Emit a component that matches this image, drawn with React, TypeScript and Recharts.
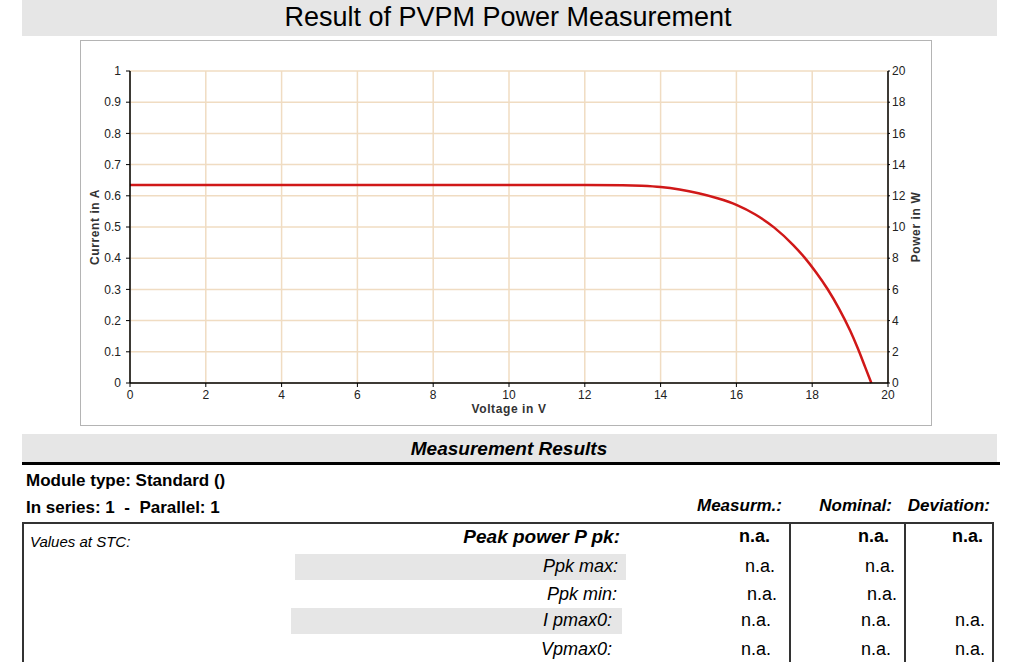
import React from 'react';
import { LineChart, Line, XAxis, YAxis, CartesianGrid } from 'recharts';

const voltage = [0, 2, 4, 6, 8, 10, 12, 13, 13.5, 14, 14.5, 15, 15.5, 16, 16.5, 17, 17.5, 17.8, 18.1, 18.4, 18.7, 19.0, 19.2, 19.4, 19.56];
const current = [0.635, 0.635, 0.635, 0.635, 0.635, 0.635, 0.635, 0.634, 0.632, 0.628, 0.62, 0.608, 0.592, 0.571, 0.54, 0.498, 0.442, 0.402, 0.355, 0.302, 0.24, 0.168, 0.112, 0.05, 0];
const xTicks = [0, 2, 4, 6, 8, 10, 12, 14, 16, 18, 20];
const currentTicks = [0, 0.1, 0.2, 0.3, 0.4, 0.5, 0.6, 0.7, 0.8, 0.9, 1];
const powerTicks = [0, 2, 4, 6, 8, 10, 12, 14, 16, 18, 20];

const data = voltage.map((v, k) => ({ v, i: current[k] }));

const FONT = "Arial, 'Liberation Sans', Helvetica, sans-serif";

type TProps = { x: number; y: number; text: string; align?: 'left' | 'right' | 'center'; size?: number; bold?: boolean; italic?: boolean };
function T({ x, y, text, align = 'left', size = 16, bold = false, italic = false }: TProps) {
  const h = size * 1.4;
  const w = 500;
  let left = x;
  if (align === 'right') left = x - w;
  if (align === 'center') left = x - w / 2;
  return (
    <div
      style={{
        position: 'absolute',
        left,
        top: y - h / 2,
        width: w,
        height: h,
        lineHeight: `${h}px`,
        textAlign: align,
        fontSize: size,
        fontWeight: bold ? 700 : 400,
        fontStyle: italic ? 'italic' : 'normal',
        fontFamily: FONT,
        color: '#000',
        whiteSpace: 'pre',
      }}
    >
      {text}
    </div>
  );
}

function Box({ x, y, w, h, bg }: { x: number; y: number; w: number; h: number; bg: string }) {
  return <div style={{ position: 'absolute', left: x, top: y, width: w, height: h, background: bg }} />;
}

export default function App() {
  const tickStyle = { fontSize: 12, fill: '#222', fontFamily: FONT };
  const axisTitle = { fontSize: 12, fontWeight: 700, fill: '#333', fontFamily: FONT, letterSpacing: 0.6 };
  return (
    <div style={{ position: 'absolute', left: 0, top: 0, width: 1024, height: 662, overflow: 'hidden', background: '#fff', fontFamily: FONT }}>
      {/* Title bar */}
      <Box x={22} y={0} w={975} h={36} bg="#e6e6e6" />
      <T x={508} y={18} text="Result of PVPM Power Measurement" align="center" size={27} />

      {/* Chart frame */}
      <div style={{ position: 'absolute', left: 80, top: 40, width: 850, height: 384, border: '1px solid #b4b4b4' }} />

      <div style={{ position: 'absolute', left: 0, top: 0 }}>
        <LineChart width={1024} height={440} data={data} margin={{ top: 71, right: 80, bottom: 5, left: 60 }}>
          <CartesianGrid yAxisId="left" stroke="#f0dcc2" strokeWidth={1.5} />
          <XAxis
            dataKey="v"
            type="number"
            domain={[0, 20]}
            ticks={xTicks}
            interval={0}
            height={52}
            tickSize={4}
            tickMargin={3}
            tick={tickStyle}
            axisLine={{ stroke: '#000', strokeWidth: 1.5 }}
            tickLine={{ stroke: '#000' }}
            label={{ value: 'Voltage in V', position: 'center', style: axisTitle }}
          />
          <XAxis
            xAxisId="top"
            dataKey="v"
            type="number"
            domain={[0, 20]}
            orientation="top"
            height={0}
            tick={false}
            tickLine={false}
            axisLine={{ stroke: '#000', strokeWidth: 1.5 }}
          />
          <YAxis
            yAxisId="left"
            type="number"
            domain={[0, 1]}
            ticks={currentTicks}
            interval={0}
            width={70}
            tickSize={4}
            tickMargin={5}
            tick={tickStyle}
            tickFormatter={(t: number) => String(Math.round(t * 10) / 10)}
            axisLine={{ stroke: '#000', strokeWidth: 1.5 }}
            tickLine={{ stroke: '#000' }}
            label={{ value: 'Current in A', angle: -90, position: 'center', style: axisTitle }}
          />
          <YAxis
            yAxisId="right"
            orientation="right"
            type="number"
            domain={[0, 20]}
            allowDataOverflow
            ticks={powerTicks}
            interval={0}
            width={56}
            tickSize={2}
            tickMargin={2}
            tick={tickStyle}
            axisLine={{ stroke: '#000', strokeWidth: 1.5 }}
            tickLine={{ stroke: '#000' }}
            label={{ value: 'Power in W', angle: -90, position: 'center', style: axisTitle }}
          />
          <Line yAxisId="left" dataKey="i" type="monotone" stroke="#d01818" strokeWidth={2.5} dot={false} isAnimationActive={false} />
        </LineChart>
      </div>

      {/* Measurement Results header */}
      <Box x={22} y={434} w={975} h={28} bg="#e6e6e6" />
      <T x={509} y={449} text="Measurement Results" align="center" size={19} bold italic />
      <Box x={22} y={462} w={978} h={3} bg="#000" />

      <T x={26} y={481} text="Module type: Standard ()" size={17} bold />
      <T x={26} y={508} text="In series: 1  -  Parallel: 1" size={17} bold />

      <T x={782} y={506} text="Measurm.:" align="right" size={17} bold italic />
      <T x={892} y={506} text="Nominal:" align="right" size={17} bold italic />
      <T x={990} y={506} text="Deviation:" align="right" size={17} bold italic />

      {/* Table box lines */}
      <Box x={22} y={522} w={972} h={2} bg="#333" />
      <Box x={22} y={522} w={2} h={140} bg="#333" />
      <Box x={789} y={522} w={2} h={140} bg="#333" />
      <Box x={904} y={522} w={2} h={140} bg="#333" />
      <Box x={992} y={522} w={2} h={140} bg="#333" />

      <T x={30} y={541} text="Values at STC:" size={15} italic />
      <T x={620} y={537} text="Peak power P pk:" align="right" size={19} bold italic />
      <T x={770} y={537} text="n.a." align="right" size={18} bold />
      <T x={889} y={537} text="n.a." align="right" size={18} bold />
      <T x={983} y={537} text="n.a." align="right" size={18} bold />

      <Box x={295} y={554} w={331} h={26} bg="#e6e6e6" />
      <T x={618} y={567} text="Ppk max:" align="right" size={18} italic />
      <T x={775} y={567} text="n.a." align="right" size={18} />
      <T x={895} y={567} text="n.a." align="right" size={18} />

      <T x={617} y={595} text="Ppk min:" align="right" size={18} italic />
      <T x={777} y={595} text="n.a." align="right" size={18} />
      <T x={897} y={595} text="n.a." align="right" size={18} />

      <Box x={291} y={608} w={331} h={26} bg="#e6e6e6" />
      <T x={612} y={621} text="I pmax0:" align="right" size={18} italic />
      <T x={771} y={621} text="n.a." align="right" size={18} />
      <T x={891} y={621} text="n.a." align="right" size={18} />
      <T x={985} y={621} text="n.a." align="right" size={18} />

      <T x={612} y={650} text="Vpmax0:" align="right" size={18} italic />
      <T x={771} y={650} text="n.a." align="right" size={18} />
      <T x={891} y={650} text="n.a." align="right" size={18} />
      <T x={985} y={650} text="n.a." align="right" size={18} />
    </div>
  );
}
